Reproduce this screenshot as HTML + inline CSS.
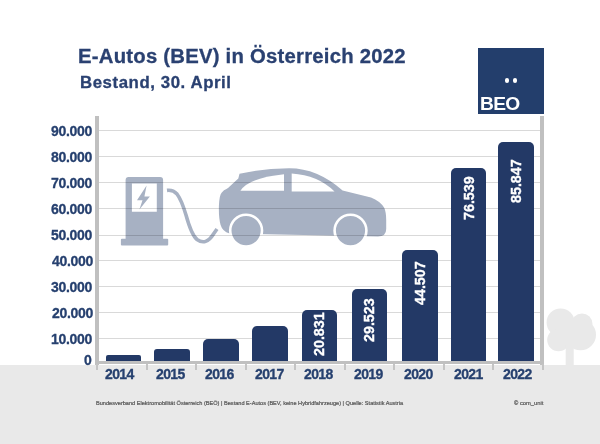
<!DOCTYPE html>
<html><head><meta charset="utf-8">
<style>
html,body{margin:0;padding:0;}
body{width:600px;height:444px;position:relative;overflow:hidden;background:#fff;font-family:"Liberation Sans",sans-serif;}
.a{position:absolute;}
.t{position:absolute;white-space:nowrap;line-height:1;}
.t,.yl,.xl,.bv{will-change:transform;}
.yl,.xl,.hd,.bv{-webkit-text-stroke:0.3px currentColor;}
.grid{position:absolute;left:99px;width:442px;height:1px;background:rgba(0,0,0,0.15);}
.bar{position:absolute;background:#233966;border-radius:5px 5px 0 0;}
.yl{position:absolute;right:508.3px;letter-spacing:-0.3px;font-weight:bold;font-size:14px;color:#26406f;line-height:1;white-space:nowrap;}
.xl{position:absolute;font-weight:bold;font-size:14px;letter-spacing:-0.6px;color:#26406f;line-height:1;white-space:nowrap;}
.bv{position:absolute;font-weight:bold;font-size:14.3px;color:#fff;line-height:1;white-space:nowrap;transform-origin:0 0;transform:rotate(-90deg);}
.tick{position:absolute;top:364px;width:2px;height:6px;background:#c4c4c4;}
</style></head>
<body>
<!-- ground band -->
<div class="a" style="left:0;top:364.5px;width:600px;height:80px;background:#e9e9e9;"></div>

<!-- tree -->
<svg class="a" style="left:540px;top:300px" width="60" height="70" viewBox="540 300 60 70">
  <g fill="#e9e9e9">
    <circle cx="560.6" cy="322.5" r="14"/>
    <circle cx="582" cy="324" r="10.5"/>
    <circle cx="580.5" cy="334.8" r="15.5"/>
    <circle cx="558.5" cy="340" r="11.3"/>
    <rect x="556" y="318" width="28" height="28"/>
    <rect x="565.7" y="345" width="8" height="20"/>
  </g>
</svg>

<!-- title -->
<div class="t hd" style="left:77.5px;top:46px;font-size:20.3px;letter-spacing:0.24px;font-weight:bold;color:#2a4171;">E-Autos (BEV) in Österreich 2022</div>
<div class="t hd" style="left:79.5px;top:75px;font-size:16.8px;letter-spacing:0.58px;font-weight:bold;color:#2a4171;">Bestand, 30. April</div>

<!-- logo -->
<div class="a" style="left:478px;top:47.5px;width:66px;height:66px;background:#233e6c;"></div>
<div class="a" style="left:504.7px;top:78.3px;width:4.4px;height:4.4px;border-radius:50%;background:#fff;"></div>
<div class="a" style="left:512.8px;top:78.3px;width:4.4px;height:4.4px;border-radius:50%;background:#fff;"></div>
<div class="t" style="left:479.5px;top:94.4px;font-size:19.2px;letter-spacing:-0.7px;font-weight:bold;color:#fff;">BEO</div>

<!-- icon -->
<svg class="a" style="left:0;top:0" width="600" height="444" viewBox="0 0 600 444">
  <g fill="#a7b1c3">
    <!-- station body -->
    <path d="M128.6 177 H160.1 Q163.1 177 163.1 180 V239 H125.6 V180 Q125.6 177 128.6 177 Z M131.9 183.5 V211.8 H156.8 V183.5 Z" fill-rule="evenodd"/>
    <rect x="120.9" y="238.8" width="47.3" height="6.8" rx="1"/>
    <path d="M146.6 185.6 L137 200.3 L142.5 200.3 L139.4 209.4 L149.9 196.6 L144.4 196.6 Z"/>
    <!-- car -->
    <path d="M239.5 173.8 Q262 168.5 289 168.2 Q317 168 342.6 190.4 L371 197.5 Q380 201 384.2 207.7 Q386.2 212 386.2 220 V229 Q386.2 236.5 378 236.5 L229.5 233.6 Q222.5 231.5 220.6 225 Q218.6 218 218.9 206 Q219.3 195 221.8 192.5 L224 190.3 Q226 189.5 228 188 L238.3 178.6 Z"/>
  </g>
  <!-- cable -->
  <path d="M167 190.4 Q173 189.6 177 194 Q181.5 200 186 215 Q191.5 235 197 239.5 Q206 246 213.5 234 L217 229" fill="none" stroke="#a7b1c3" stroke-width="3.6"/>
  <!-- windows -->
  <g fill="#fff">
    <path d="M240.4 190.8 Q248 178 284 174.2 V190.8 Z"/>
    <path d="M291.7 173.4 Q318 175 334.5 191.4 H291.7 Z"/>
  </g>
  <!-- wheels -->
  <g fill="#a7b1c3" stroke="#fff" stroke-width="2.6">
    <circle cx="246.1" cy="230.6" r="15.9"/>
    <circle cx="350.5" cy="230.6" r="15.9"/>
  </g>
</svg>

<!-- grid lines -->
<div class="grid" style="top:130px"></div>
<div class="grid" style="top:156px"></div>
<div class="grid" style="top:182px"></div>
<div class="grid" style="top:208px"></div>
<div class="grid" style="top:235px"></div>
<div class="grid" style="top:260px"></div>
<div class="grid" style="top:286px"></div>
<div class="grid" style="top:312px"></div>
<div class="grid" style="top:338px"></div>

<!-- bars -->
<div class="bar" style="left:105.5px;top:354.7px;width:35.4px;height:7px;border-radius:2px 2px 0 0;"></div>
<div class="bar" style="left:153.9px;top:348.8px;width:35.7px;height:13px;border-radius:3px 3px 0 0;"></div>
<div class="bar" style="left:203.2px;top:338.7px;width:35.7px;height:23px;"></div>
<div class="bar" style="left:252px;top:325.9px;width:35.5px;height:36px;"></div>
<div class="bar" style="left:301.9px;top:310.4px;width:35.2px;height:51px;"></div>
<div class="bar" style="left:351.9px;top:288.8px;width:35.2px;height:73px;"></div>
<div class="bar" style="left:402.1px;top:249.9px;width:35.5px;height:112px;"></div>
<div class="bar" style="left:451.4px;top:167.8px;width:34.7px;height:194px;"></div>
<div class="bar" style="left:498.3px;top:142.2px;width:35.6px;height:220px;"></div>

<!-- bar labels -->
<div class="bv" style="left:311.5px;top:356.4px;">20.831</div>
<div class="bv" style="left:361.5px;top:341.9px;">29.523</div>
<div class="bv" style="left:412.5px;top:305px;">44.507</div>
<div class="bv" style="left:461.5px;top:220.4px;">76.539</div>
<div class="bv" style="left:508.5px;top:202.7px;">85.847</div>

<!-- axes -->
<div class="a" style="left:95px;top:116px;width:3.7px;height:248.5px;background:#c0c0c0;"></div>
<div class="a" style="left:540.4px;top:116px;width:3.7px;height:248.5px;background:#c0c0c0;"></div>
<div class="a" style="left:95px;top:361.2px;width:449px;height:3.3px;background:#c0c0c0;"></div>
<div class="tick" style="left:96px"></div>
<div class="tick" style="left:145.5px"></div>
<div class="tick" style="left:195px"></div>
<div class="tick" style="left:244.5px"></div>
<div class="tick" style="left:294px"></div>
<div class="tick" style="left:343.5px"></div>
<div class="tick" style="left:393px"></div>
<div class="tick" style="left:442.5px"></div>
<div class="tick" style="left:492px"></div>
<div class="tick" style="left:541.5px"></div>

<!-- y labels -->
<div class="yl" style="top:124px">90.000</div>
<div class="yl" style="top:150px">80.000</div>
<div class="yl" style="top:176px">70.000</div>
<div class="yl" style="top:202px">60.000</div>
<div class="yl" style="top:228px">50.000</div>
<div class="yl" style="top:254px;right:507.2px">40.000</div>
<div class="yl" style="top:280px">30.000</div>
<div class="yl" style="top:306px;right:507.2px">20.000</div>
<div class="yl" style="top:332px">10.000</div>
<div class="yl" style="top:353px">0</div>

<!-- x labels -->
<div class="xl" style="left:105.00px;top:367px">2014</div>
<div class="xl" style="left:155.50px;top:367px">2015</div>
<div class="xl" style="left:205.20px;top:367px">2016</div>
<div class="xl" style="left:254.75px;top:367px">2017</div>
<div class="xl" style="left:304.00px;top:367px">2018</div>
<div class="xl" style="left:354.00px;top:367px">2019</div>
<div class="xl" style="left:404.00px;top:367px">2020</div>
<div class="xl" style="left:453.80px;top:367px">2021</div>
<div class="xl" style="left:503.20px;top:367px">2022</div>

<!-- footer -->
<div class="t" style="left:95.5px;top:400.5px;font-size:5.6px;-webkit-text-stroke:0.2px #555;color:#555;">Bundesverband Elektromobilität Österreich (BEÖ) | Bestand E-Autos (BEV, keine Hybridfahrzeuge) | Quelle: Statistik Austria</div>
<div class="t" style="left:514px;top:400.5px;font-size:5.8px;-webkit-text-stroke:0.2px #555;color:#555;">© com_unit</div>
</body></html>
